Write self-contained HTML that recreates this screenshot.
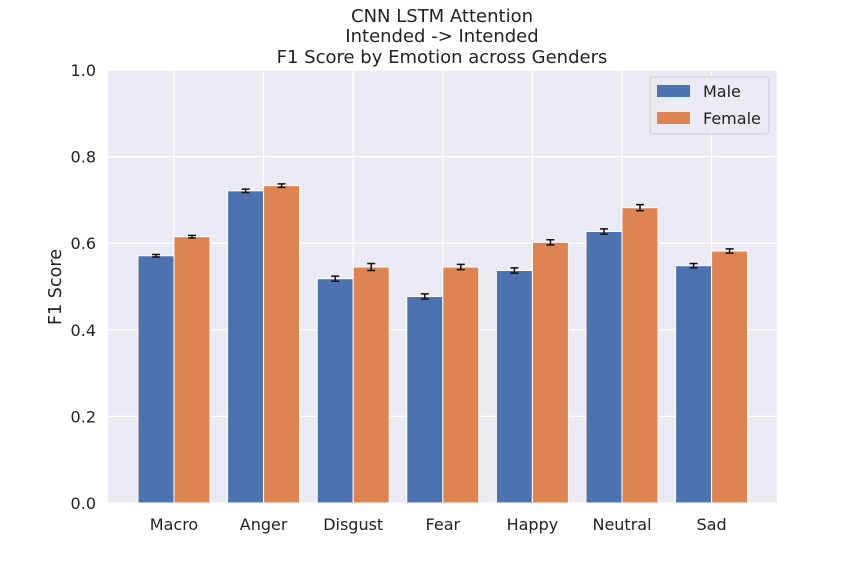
<!DOCTYPE html>
<html><head><meta charset="utf-8"><style>
body{margin:0;background:#fff;}
svg{display:block;font-family:"DejaVu Sans","Liberation Sans",sans-serif;}
</style></head><body>
<svg id="chart" width="864" height="576">
<text x="442" y="22" text-anchor="middle" font-size="18" fill="#222">CNN LSTM Attention</text>
<text x="442" y="42" text-anchor="middle" font-size="18" fill="#222">Intended -&gt; Intended</text>
<text x="442" y="63" text-anchor="middle" font-size="18" fill="#222">F1 Score by Emotion across Genders</text>
<rect x="108" y="70" width="669" height="433" fill="#eaeaf2"/>
<g id="grid"></g><g id="bars"></g><g id="ticks"></g>
<text transform="translate(61,287) rotate(-90)" text-anchor="middle" font-size="17.6" fill="#222">F1 Score</text>
<g>
<rect x="650" y="77" width="119" height="57" rx="3" fill="#eaeaf2" stroke="#ccc" opacity="0.9"/>
<rect x="657" y="85" width="33" height="12" fill="#4c72b0"/>
<text x="703" y="97" font-size="16" fill="#222">Male</text>
<rect x="657" y="112" width="33" height="12" fill="#dd8452"/>
<text x="703" y="124" font-size="16" fill="#222">Female</text>
</g>
</svg>
<script>
const categories=["Macro","Anger","Disgust","Fear","Happy","Neutral","Sad"];
const maleValues=[0.571,0.721,0.518,0.477,0.537,0.627,0.548];
const femaleValues=[0.615,0.733,0.545,0.545,0.602,0.682,0.582];
const maleErr=[0.003,0.004,0.006,0.006,0.006,0.006,0.005];
const femaleErr=[0.003,0.004,0.008,0.006,0.006,0.007,0.005];
const yTicks=[0,0.2,0.4,0.6,0.8,1.0];
const NS="http://www.w3.org/2000/svg";
const x0=108,x1=777,yTop=70,yBot=503;
const y=v=>yBot-(yBot-yTop)*v;
const step=89.6;
const cx=i=>174+i*step;
const bw=36;
function mk(tag,attrs,parent){const e=document.createElementNS(NS,tag);for(const k in attrs)e.setAttribute(k,attrs[k]);parent.appendChild(e);return e;}
const grid=document.getElementById('grid'),bars=document.getElementById('bars'),ticks=document.getElementById('ticks');
yTicks.forEach(t=>{
 const l=mk('line',{x1:x0,x2:x1,y1:y(t),y2:y(t),stroke:'#fff','stroke-width':1.2},grid);
 
 
 const tx=mk('text',{x:96,y:y(t)+6,'text-anchor':'end','font-size':16,fill:'#222'},ticks);
 tx.textContent=t.toFixed(1);
 
 
});
categories.forEach((c,i)=>{
 const l=mk('line',{x1:cx(i),x2:cx(i),y1:yTop,y2:yBot,stroke:'#fff','stroke-width':1.2},grid);
 
 
 const tx=mk('text',{x:cx(i),y:530,'text-anchor':'middle','font-size':16,fill:'#222'},ticks);
 tx.textContent=c;
 
 
 [[maleValues,maleErr,'#4c72b0',-bw,'male'],[femaleValues,femaleErr,'#dd8452',0,'female']].forEach(([vals,errs,col,off,nm])=>{
  const v=vals[i];
  const r=mk('rect',{x:cx(i)+off,y:y(v),width:bw,height:yBot-y(v),fill:col,stroke:'#fff','stroke-width':1},bars);
  
  
  const m=cx(i)+off+bw/2,e=errs[i];
  const g=mk('path',{d:`M${m} ${y(v+e)}V${y(v-e)}M${m-4} ${y(v+e)}H${m+4}M${m-4} ${y(v-e)}H${m+4}`,stroke:'#111','stroke-width':1.5,fill:'none'},bars);
  
  
 });
});
</script>
</body></html>
